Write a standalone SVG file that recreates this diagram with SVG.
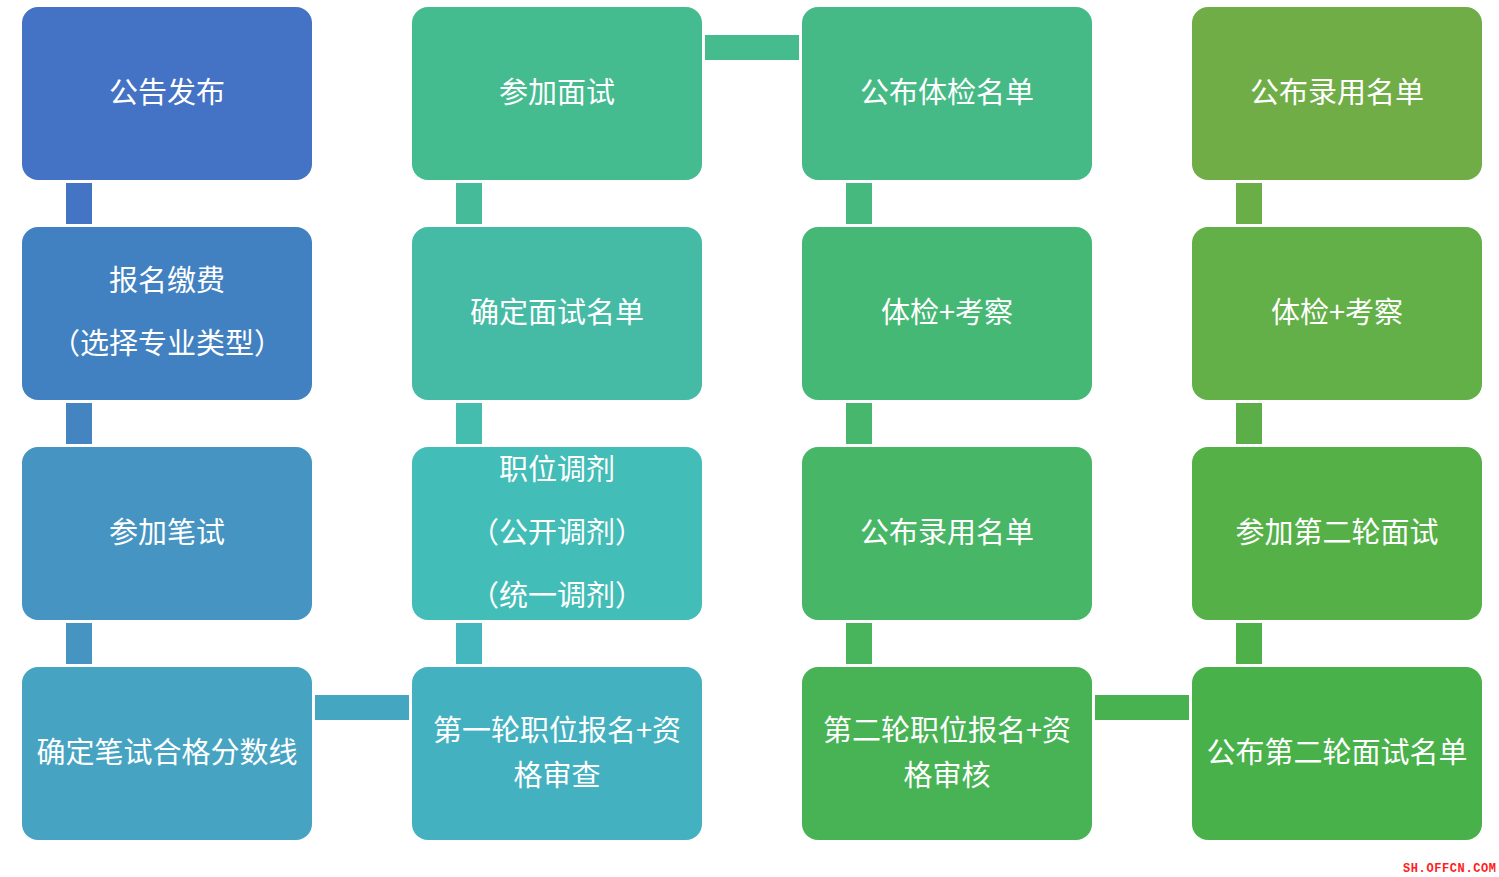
<svg xmlns="http://www.w3.org/2000/svg" width="1499" height="877" viewBox="0 0 1499 877">
<style>
.box{rx:16px;ry:16px}
.t{font-family:"Noto Sans CJK SC","Liberation Sans",sans-serif;font-size:29px;fill:#ffffff;text-anchor:middle}
.wm{font-family:"Liberation Mono",monospace;font-size:12px;font-weight:bold;fill:#ff2020;letter-spacing:0.6px}
</style>
<rect width="1499" height="877" fill="#ffffff"/>
<g id="connectors">
<rect x="66" y="183" width="26" height="41" fill="#4474C4"/>
<rect x="66" y="403" width="26" height="41" fill="#4384C1"/>
<rect x="66" y="623" width="26" height="41" fill="#4594C1"/>
<rect x="315" y="695" width="94" height="25" fill="#45A6C2"/>
<rect x="456" y="183" width="26" height="41" fill="#45BB99"/>
<rect x="456" y="403" width="26" height="41" fill="#44BCAE"/>
<rect x="456" y="623" width="26" height="41" fill="#44B6BE"/>
<rect x="705" y="35" width="94" height="25" fill="#45BB8E"/>
<rect x="846" y="183" width="26" height="41" fill="#46B97E"/>
<rect x="846" y="403" width="26" height="41" fill="#47B76E"/>
<rect x="846" y="623" width="26" height="41" fill="#48B55D"/>
<rect x="1095" y="695" width="94" height="25" fill="#48B250"/>
<rect x="1236" y="183" width="26" height="41" fill="#6AAE47"/>
<rect x="1236" y="403" width="26" height="41" fill="#5CAF48"/>
<rect x="1236" y="623" width="26" height="41" fill="#4EB049"/>
</g>
<g id="n1"><rect class="box" x="22" y="7" width="290" height="173" fill="#4472C4"/><text class="t" x="167" y="103">公告发布</text></g>
<g id="n2"><rect class="box" x="22" y="227" width="290" height="173" fill="#4281C1"/><text class="t" x="167" y="291">报名缴费</text><text class="t" x="167" y="354">（选择专业类型）</text></g>
<g id="n3"><rect class="box" x="22" y="447" width="290" height="173" fill="#4594C1"/><text class="t" x="167" y="543">参加笔试</text></g>
<g id="n4"><rect class="box" x="22" y="667" width="290" height="173" fill="#46A4C2"/><text class="t" x="167" y="763">确定笔试合格分数线</text></g>
<g id="n5"><rect class="box" x="412" y="7" width="290" height="173" fill="#45BB90"/><text class="t" x="557" y="103">参加面试</text></g>
<g id="n6"><rect class="box" x="412" y="227" width="290" height="173" fill="#45BBA6"/><text class="t" x="557" y="323">确定面试名单</text></g>
<g id="n7"><rect class="box" x="412" y="447" width="290" height="173" fill="#43BDB7"/><text class="t" x="557" y="480">职位调剂</text><text class="t" x="557" y="543">（公开调剂）</text><text class="t" x="557" y="606">（统一调剂）</text></g>
<g id="n8"><rect class="box" x="412" y="667" width="290" height="173" fill="#44B1C1"/><text class="t" x="557" y="741">第一轮职位报名+资</text><text class="t" x="557" y="786">格审查</text></g>
<g id="n9"><rect class="box" x="802" y="7" width="290" height="173" fill="#45BA86"/><text class="t" x="947" y="103">公布体检名单</text></g>
<g id="n10"><rect class="box" x="802" y="227" width="290" height="173" fill="#46B876"/><text class="t" x="947" y="323">体检+考察</text></g>
<g id="n11"><rect class="box" x="802" y="447" width="290" height="173" fill="#47B666"/><text class="t" x="947" y="543">公布录用名单</text></g>
<g id="n12"><rect class="box" x="802" y="667" width="290" height="173" fill="#48B355"/><text class="t" x="947" y="741">第二轮职位报名+资</text><text class="t" x="947" y="786">格审核</text></g>
<g id="n13"><rect class="box" x="1192" y="7" width="290" height="173" fill="#70AD47"/><text class="t" x="1337" y="103">公布录用名单</text></g>
<g id="n14"><rect class="box" x="1192" y="227" width="290" height="173" fill="#63AF48"/><text class="t" x="1337" y="323">体检+考察</text></g>
<g id="n15"><rect class="box" x="1192" y="447" width="290" height="173" fill="#55B048"/><text class="t" x="1337" y="543">参加第二轮面试</text></g>
<g id="n16"><rect class="box" x="1192" y="667" width="290" height="173" fill="#48B14A"/><text class="t" x="1337" y="763">公布第二轮面试名单</text></g>
<text class="wm" x="1403" y="872">SH.OFFCN.COM</text>
</svg>
